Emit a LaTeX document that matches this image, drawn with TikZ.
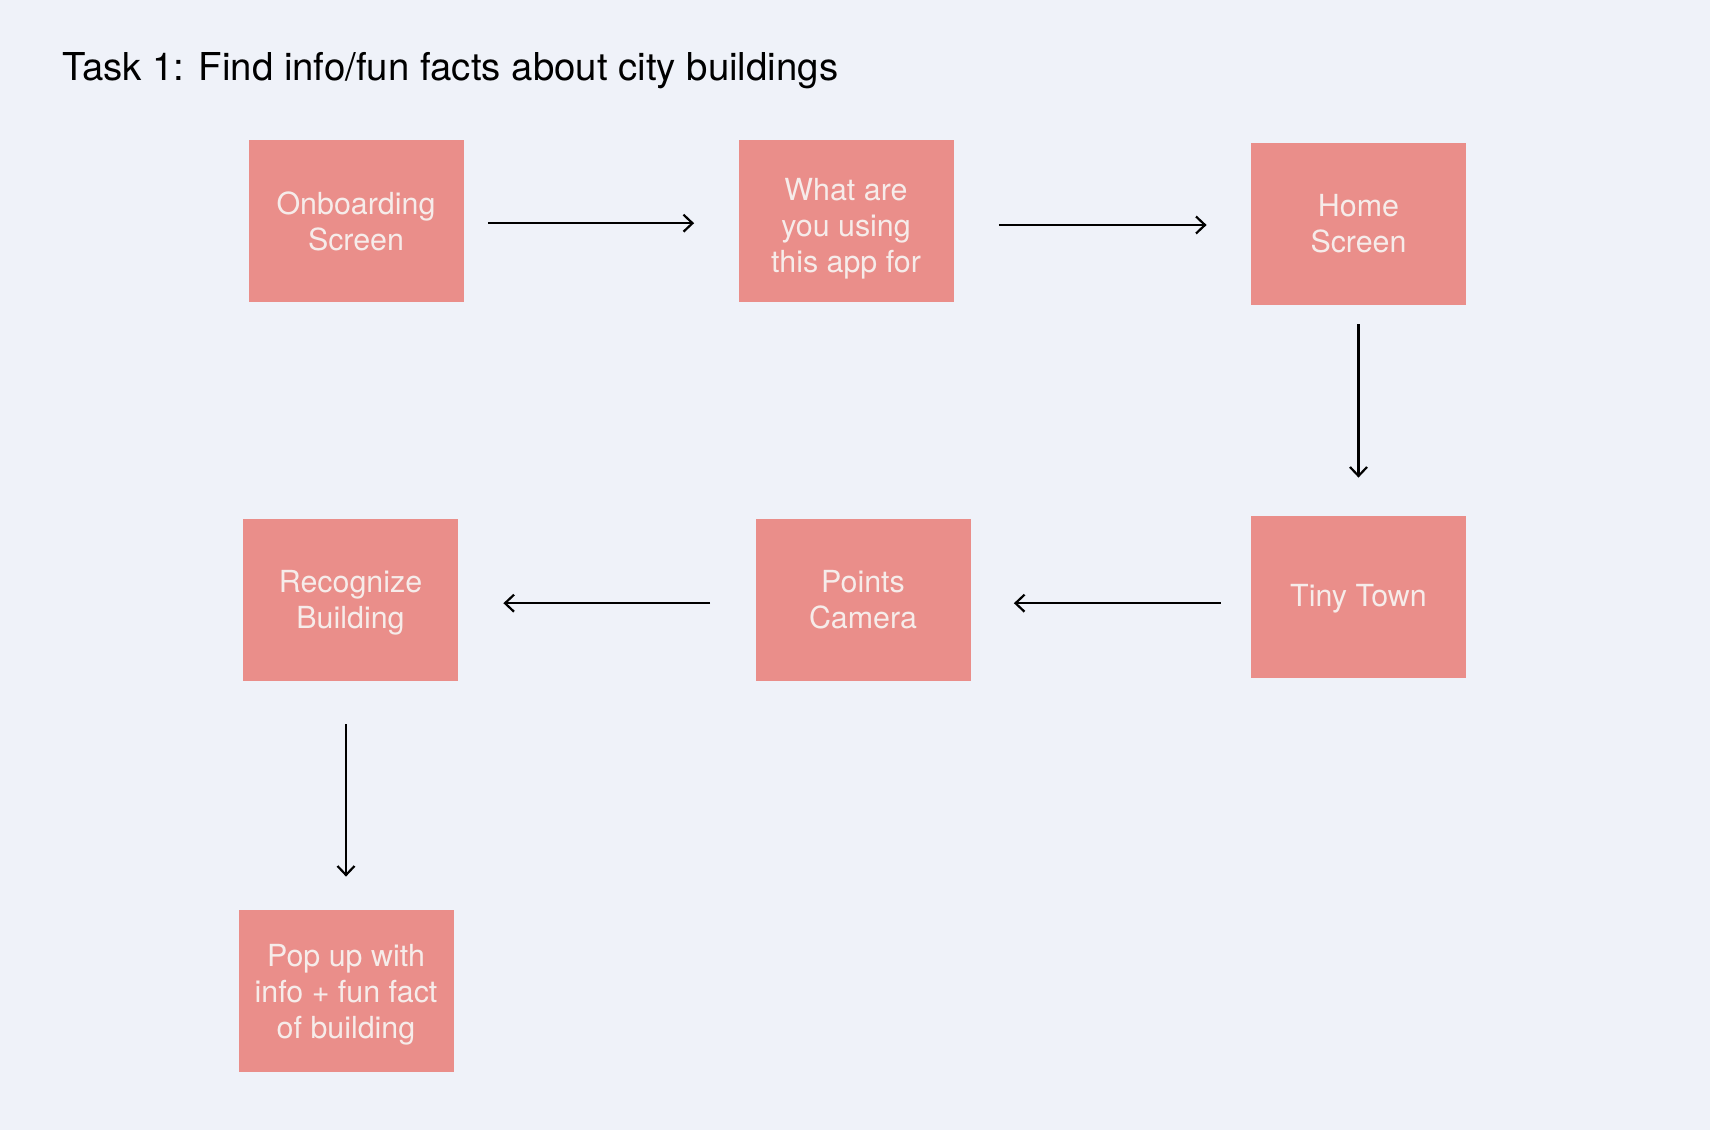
\documentclass[tikz,border=0pt]{standalone}
\usepackage{fontspec}
\setmainfont{TeX Gyre Heros}
\usetikzlibrary{arrows.meta}
\definecolor{bgcol}{HTML}{EFF2F9}
\definecolor{boxcol}{HTML}{EA8E8A}
\definecolor{txtcol}{HTML}{F6ECEA}
\begin{document}
\begin{tikzpicture}[x=0.5pt, y=-0.5pt,
    screen/.style={fill=boxcol, minimum width=107.5pt, minimum height=81pt,
        inner sep=0pt, align=center, text=txtcol,
        font=\fontsize{15.2}{18}\selectfont},
    flow/.style={-{Straight Barb[length=4.5pt,width=8.5pt]}, line width=1.1pt, black},
    down/.style={transform canvas={yshift=-#1}}]
    \def\lift#1{\rule{0pt}{#1}} % abaisse un peu le texte
    % fond
    \fill[bgcol] (0,0) rectangle (1710,1130);
    \useasboundingbox (0,0) rectangle (1710,1130);

    % titre
    \node[anchor=west, inner sep=0pt, font=\fontsize{19.2}{23}\selectfont] (title) at (62,71)
        {Task 1: Find info/fun facts about city buildings};

    % ecrans, ligne du haut
    \node[screen] (onb)  at (356,221)    {Onboarding\\Screen};
    \node[screen] (what) at (846,221)    {\lift{18.4pt}What are\\you using\\this app for};
    \node[screen] (home) at (1358.5,224) {Home\\Screen};
    % ligne du milieu
    \node[screen] (tiny) at (1358.5,597) {\lift{12.5pt}Tiny Town};
    \node[screen] (pts)  at (863,600)    {Points\\Camera};
    \node[screen] (rec)  at (350.5,600)  {\lift{13.6pt}Recognize\\Building};
    % ligne du bas
    \node[screen] (pop)  at (346,991)    {\lift{15.2pt}Pop up with\\info + fun fact\\of building};

    % fleches
    \draw[flow, down=1.1pt, shorten <=12pt, shorten >=22pt] (onb.east) -- (onb.east -| what.west);
    \draw[flow, down=0.5pt, shorten <=22.5pt, shorten >=22pt] (what.east |- home.west) -- (home.west);
    \draw[flow, shorten <=9.5pt, shorten >=19pt] (home.south) -- (tiny.north);
    \draw[flow, down=1.6pt, shorten <=15pt, shorten >=21.5pt] (tiny.west |- pts.east) -- (pts.east);
    \draw[flow, down=1.6pt, shorten <=22.5pt, shorten >=22.5pt] (pts.west) -- (rec.east);
    \draw[flow, shorten <=21.5pt, shorten >=16.5pt] (rec.south -| pop.north) -- (pop.north);
\end{tikzpicture}
\end{document}
